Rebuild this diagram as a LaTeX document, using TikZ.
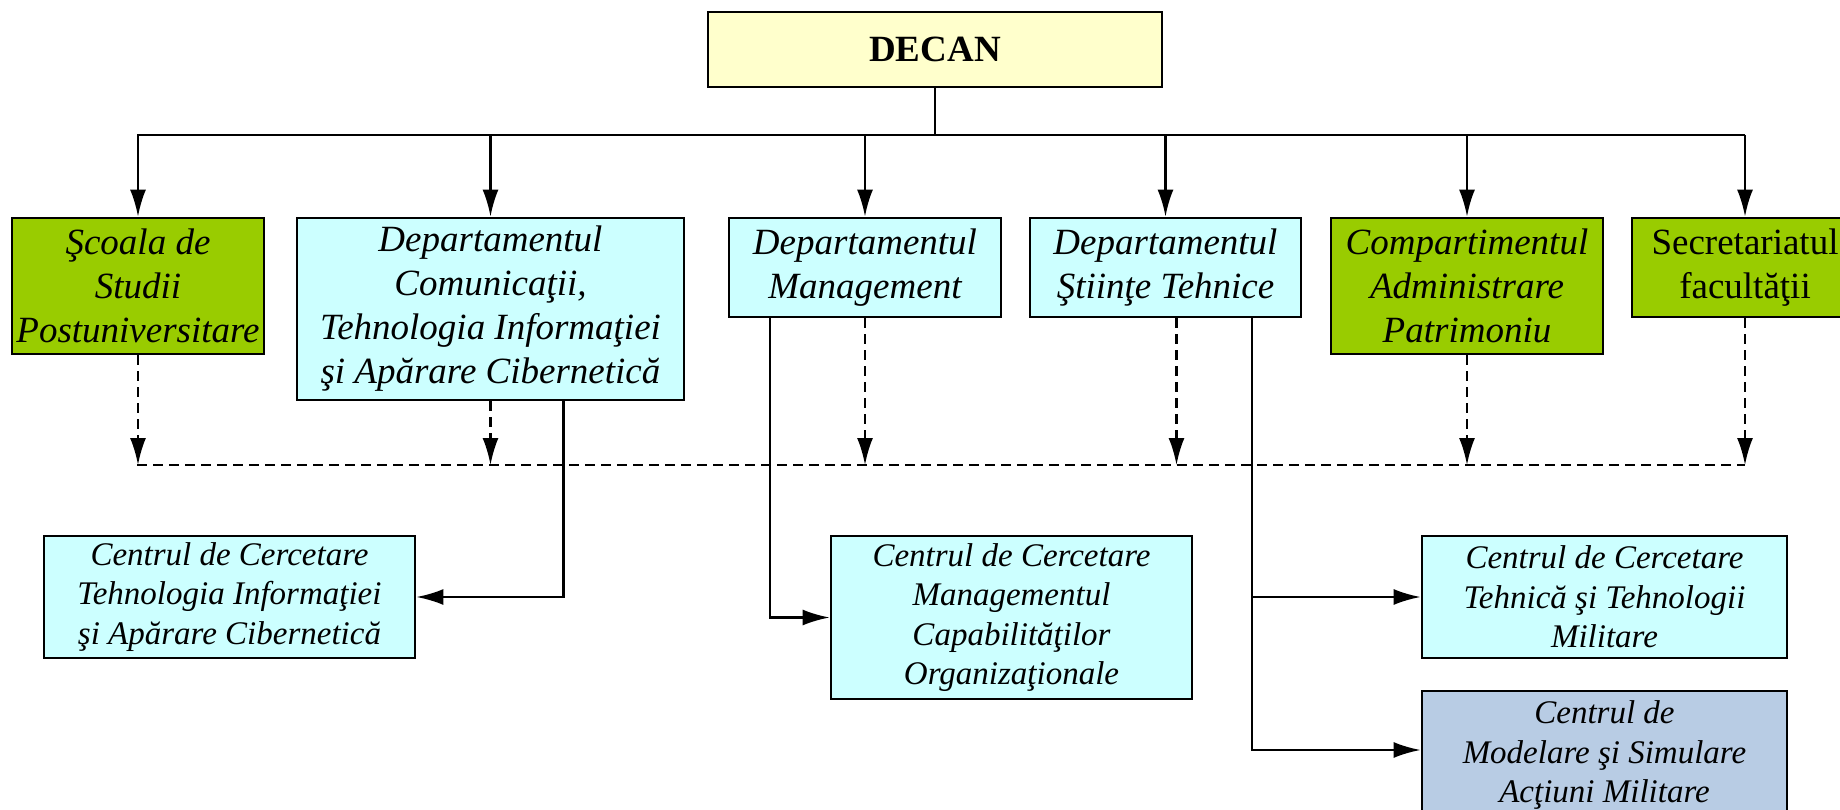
\documentclass[tikz,border=0pt]{standalone}
\usepackage{fontspec}
\setmainfont{Liberation Serif}
\usetikzlibrary{arrows.meta, positioning}

\definecolor{decanyellow}{HTML}{FFFFCC}
\definecolor{deptcyan}{HTML}{CCFFFF}
\definecolor{unitgreen}{HTML}{99CC00}
\definecolor{simblue}{HTML}{B8CCE4}

\begin{document}
\begin{tikzpicture}[x=1pt, y=-1pt,
  box/.style={rectangle, draw, line width=2.8pt, inner sep=0pt, align=center,
    font=\fontsize{37}{44}\selectfont\itshape},
  centrebox/.style={box, font=\fontsize{33}{39.5}\selectfont\itshape},
  arr/.style={line width=2.4pt, -{Latex[length=27pt, width=16pt]}},
  darr/.style={arr, dash pattern=on 10pt off 6pt}]
  \useasboundingbox (0,0) rectangle (1840,810);

  % Create the nodes
  \node (decan) [box, fill=decanyellow, minimum width=454, minimum height=75,
    font=\fontsize{37}{44}\selectfont\bfseries] at (935,49.5) {DECAN};

  \node (scoala) [box, fill=unitgreen, minimum width=252, minimum height=136] at (138,286)
    {Şcoala de\\Studii\\Postuniversitare};
  \node (comunicatii) [box, fill=deptcyan, minimum width=387, minimum height=182] at (490.5,309)
    {Departamentul\\Comunicaţii,\\Tehnologia Informaţiei\\şi Apărare Cibernetică};
  \node (management) [box, fill=deptcyan, minimum width=272, minimum height=99] at (865,267.5)
    {Departamentul\\Management};
  \node (stiinte) [box, fill=deptcyan, minimum width=271, minimum height=99] at (1165.5,267.5)
    {Departamentul\\Ştiinţe Tehnice};
  \node (compartiment) [box, fill=unitgreen, minimum width=272, minimum height=136] at (1467,286)
    {Compartimentul\\Administrare\\Patrimoniu};
  \node (secretariat) [box, fill=unitgreen, minimum width=226, minimum height=99,
    font=\fontsize{37}{44}\selectfont\upshape] at (1745,267.5)
    {Secretariatul\\facultăţii};

  \node (centructi) [centrebox, fill=deptcyan, minimum width=371, minimum height=122] at (229.5,597)
    {Centrul de Cercetare\\Tehnologia Informaţiei\\şi Apărare Cibernetică};
  \node (centrumc) [centrebox, fill=deptcyan, minimum width=361, minimum height=163] at (1011.5,617.5)
    {Centrul de Cercetare\\Managementul\\Capabilităţilor\\Organizaţionale};
  \node (tehnica) [centrebox, fill=deptcyan, minimum width=365, minimum height=122] at (1604.5,597)
    {Centrul de Cercetare\\Tehnică şi Tehnologii\\Militare};
  \node (modelare) [centrebox, fill=simblue, minimum width=365, minimum height=128] at (1604.5,755)
    {Centrul de\\Modelare şi Simulare\\Acţiuni Militare};

  % Draw the top bus
  \coordinate (busl) at (137,135);
  \coordinate (busr) at (1745,135);
  \draw [line width=2.4pt] (decan.south) -- (decan.south |- busl);
  \draw [line width=2.4pt] (busl) -- (busr);
  \foreach \n in {scoala, comunicatii, management, stiinte, compartiment, secretariat}
    \draw [arr] (\n.north |- busl) -- (\n.north);

  % Draw the dashed bus
  \coordinate (dbusl) at (137,465);
  \coordinate (dbusr) at (1745,465);
  \draw [line width=2.4pt, dash pattern=on 10pt off 6pt] (dbusl) -- (dbusr);
  \foreach \n in {scoala, comunicatii, management, compartiment, secretariat}
    \draw [darr] (\n.south) -- (\n.south |- dbusl);
  \draw [darr] ([xshift=11pt]stiinte.south) -- ([xshift=11pt]stiinte.south |- dbusl);

  % Draw the research centre links
  \draw [arr] ([xshift=73pt]comunicatii.south) |- (centructi.east);
  \draw [arr] ([xshift=-95pt]management.south) |- (centrumc.west);
  \draw [arr] ([xshift=86.5pt]stiinte.south) |- ([yshift=5pt]modelare.west);
  \draw [arr] ([xshift=86.5pt]stiinte.south |- tehnica.west) -- (tehnica.west);
\end{tikzpicture}
\end{document}
